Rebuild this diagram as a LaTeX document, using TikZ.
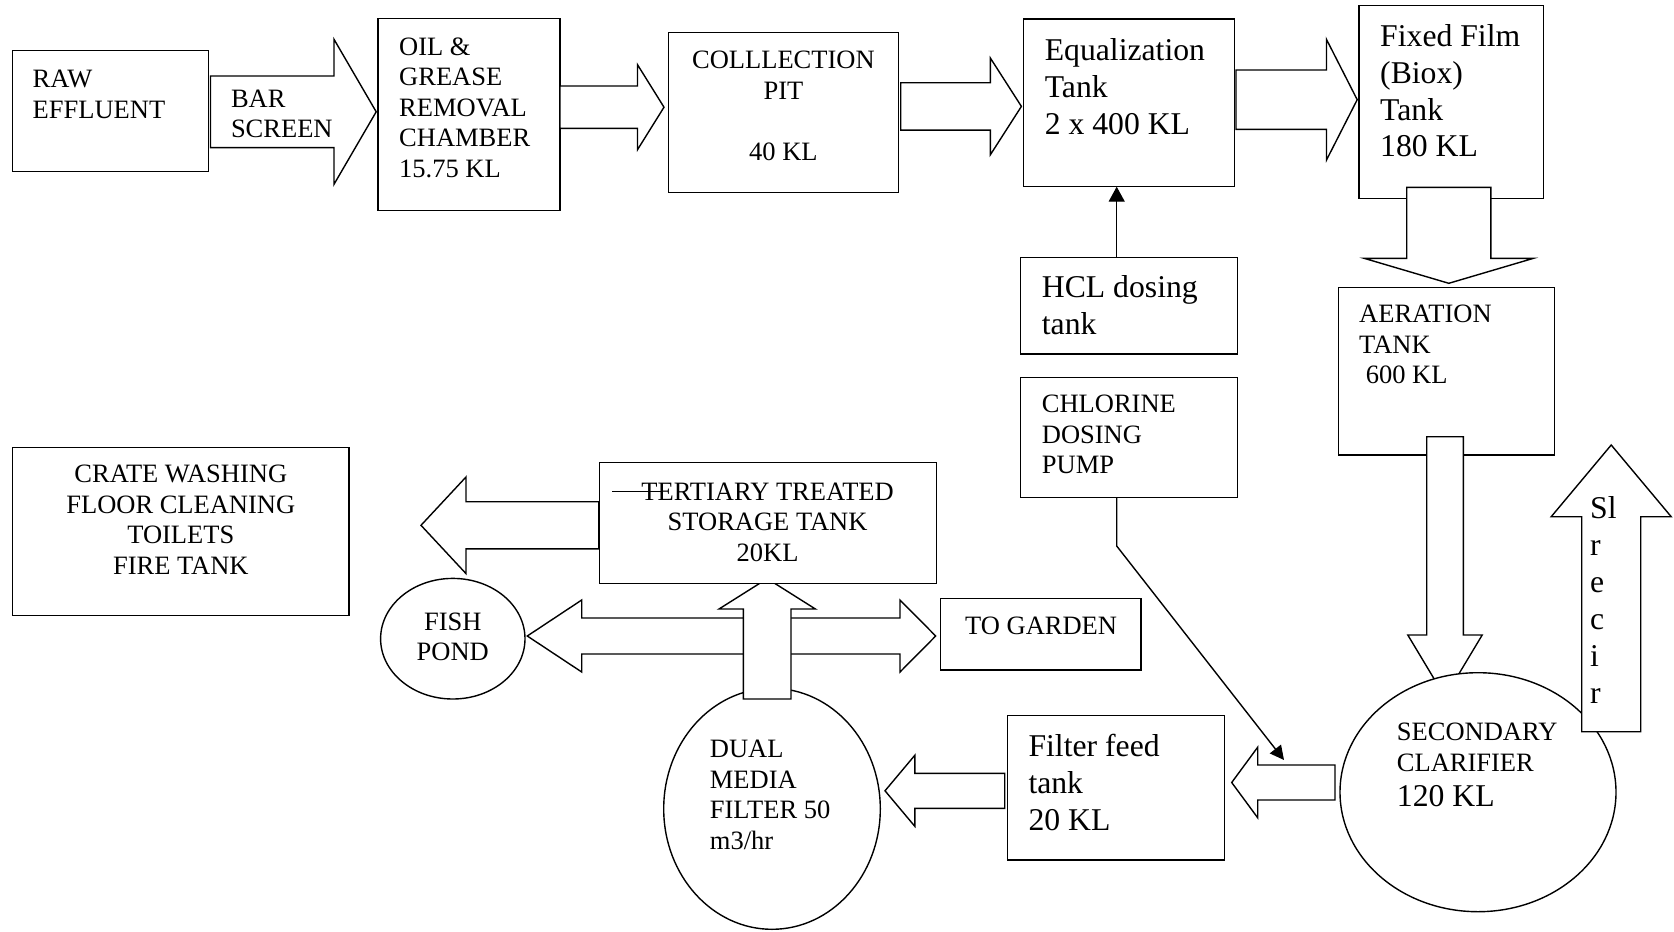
\documentclass[tikz,border=0pt]{standalone}
\usepackage{fontspec}
\setmainfont{Liberation Serif}
\usetikzlibrary{shapes.geometric,arrows.meta}
\newcommand\txs{\fontsize{26.5}{30.5}\selectfont}
\newcommand\txl{\fontsize{31.7}{36.9}\selectfont}
\newcommand\hblock[6]{\draw[blk] (#1,#4-#5) -- (#2,#4-#5) -- (#2,#4-#6) -- (#3,#4) -- (#2,#4+#6) -- (#2,#4+#5) -- (#1,#4+#5) -- cycle;}
\newcommand\vblock[6]{\draw[blk] (#4-#5,#1) -- (#4-#5,#2) -- (#4-#6,#2) -- (#4,#3) -- (#4+#6,#2) -- (#4+#5,#2) -- (#4+#5,#1) -- cycle;}
\begin{document}
\begin{tikzpicture}[x=1pt,y=-1pt,
  lw/.style={line width=1.4pt},
  box/.style={draw, lw, fill=white, inner sep=0pt, outer sep=0pt, anchor=north west},
  oval/.style={draw, lw, fill=white, ellipse, inner sep=0pt, outer sep=0pt},
  blk/.style={draw, lw, fill=white, line join=miter},
  ts/.style={inner sep=0pt, anchor=north west, align=left, font=\txs, yshift=21.35pt},
  tsc/.style={inner sep=0pt, anchor=north, align=center, font=\txs, yshift=21.35pt},
  tl/.style={inner sep=0pt, anchor=north west, align=left, font=\txl, yshift=25.83pt},
  link/.style={lw, -{Triangle[length=15pt,width=16pt]}}]
\path[use as bounding box, fill=white] (0,0) rectangle (1674,932);

% top row
\node[box, minimum width=196pt, minimum height=120.8pt] (raw) at (12.6,50.7) {};
\node[ts] (rawt) at (32.5,87.5) {\strut RAW\\EFFLUENT};
\hblock{210.5}{334}{376.2}{111.8}{35.8}{72.5}
\node[ts] (bart) at (230.8,107.2) {\strut BAR\\SCREEN};

\node[box, minimum width=182pt, minimum height=192.4pt] (oil) at (378,18.3) {};
\node[ts] (oilt) at (399,54.8) {\strut OIL \&\\GREASE\\REMOVAL\\CHAMBER\\15.75 KL};
\hblock{560}{637.5}{664}{107.2}{21.2}{42.5}

\node[box, minimum width=229.6pt, minimum height=160.4pt] (coll) at (668.6,32.3) {};
\node[tsc] (collt) at (783.4,68.3) {\strut COLLLECTION\\PIT\\[30.5pt]40 KL};
\hblock{900.7}{990.4}{1021.4}{106.4}{23.7}{48.3}

\node[box, minimum width=211pt, minimum height=167.7pt] (eq) at (1023.2,19) {};
\node[tl] (eqt) at (1044.6,60) {\strut Equalization\\Tank\\2 x 400 KL};
\hblock{1236}{1326.5}{1357.2}{99.7}{29.7}{60.3}

\node[box, minimum width=184.8pt, minimum height=192.6pt] (fix) at (1358.9,5.7) {};
\node[tl] (fixt) at (1380,46) {\strut Fixed Film\\(Biox)\\Tank\\180 KL};
\vblock{187.3}{258.3}{283.3}{1448.8}{42.1}{84.7}

\node[box, minimum width=216.2pt, minimum height=167.7pt] (aer) at (1338.2,287.3) {};
\node[ts] (aert) at (1359,322.7) {\strut AERATION\\TANK\\\hspace*{6.6pt}600 KL};
\vblock{436.7}{635}{697}{1445}{18.3}{37.2}

\node[oval, minimum width=276pt, minimum height=239pt] (sec) at (1478,792.2) {};
\node[ts] (sect) at (1396.7,740.7) {\strut SECONDARY\\CLARIFIER};
\node[tl] (seckl) at (1396.7,806.7) {\strut 120 KL};

\vblock{731.7}{516.7}{445}{1611.2}{29.5}{60}
\node[tl] (slt) at (1590,518.3) {\strut Sl\\r\\e\\c\\i\\r};

% dosing
\node[box, minimum width=216.6pt, minimum height=96.7pt] (hcl) at (1020.7,257.3) {};
\node[tl] (hclt) at (1041.7,297.3) {\strut HCL dosing\\tank};
\coordinate (hclx) at (1116.7,0);
\draw[link] (hcl.north -| hclx) -- (eq.south -| hclx);

\node[box, minimum width=216.6pt, minimum height=120pt] (chl) at (1020.7,377.3) {};
\node[ts] (chlt) at (1041.7,412.7) {\strut CHLORINE\\DOSING\\PUMP};

\hblock{1335}{1257.7}{1231.7}{782.5}{17.5}{35.3}
\coordinate (chlbend) at (1116.7,546);
\coordinate (chltip) at (1284,760);
\draw[lw, -{Triangle[length=14pt,width=14pt]}] (chl.south -| chlbend) -- (chlbend) -- (chltip);

% bottom
\node[box, minimum width=200.3pt, minimum height=71.7pt] (gar) at (940.7,598.3) {};
\node[ts] (gart) at (965,634) {\strut TO GARDEN};

\node[box, minimum width=216.9pt, minimum height=144.5pt] (ff) at (1007.3,715.5) {};
\node[tl] (fft) at (1028.3,756.5) {\strut Filter feed\\tank\\20 KL};
\hblock{1004.7}{914.8}{885}{790.8}{17.5}{35.5}

\draw[blk] (527.3,636) -- (581.7,600) -- (581.7,618) -- (900,618) -- (900,600) -- (935.7,636) -- (900,672) -- (900,654) -- (581.7,654) -- (581.7,672) -- cycle;

\node[oval, minimum width=216.6pt, minimum height=241pt] (dmf) at (772,808.8) {};
\node[ts] (dmft) at (709.7,757.3) {\strut DUAL\\MEDIA\\FILTER 50\\m3/hr};
\vblock{699}{609}{578.6}{767.2}{23.8}{48.2}

\node[box, minimum width=337.1pt, minimum height=120.6pt] (ter) at (599.3,462.7) {};
\node[tsc] (tert) at (767.6,500) {\strut TERTIARY TREATED\\STORAGE TANK\\20KL};
\draw[lw] (612,491.5) -- (660.6,491.5);
\hblock{598.8}{466}{421}{525.3}{23.6}{48.3}

\node[box, minimum width=336.3pt, minimum height=168.4pt] (crate) at (12.7,447.3) {};
\node[tsc] (cratet) at (180.8,482.5) {\strut CRATE WASHING\\FLOOR CLEANING\\TOILETS\\FIRE TANK};

\node[oval, minimum width=144.4pt, minimum height=120.6pt] (fish) at (452.8,638.7) {};
\node[tsc] (fisht) at (452.8,630) {\strut FISH\\POND};
\end{tikzpicture}
\end{document}
